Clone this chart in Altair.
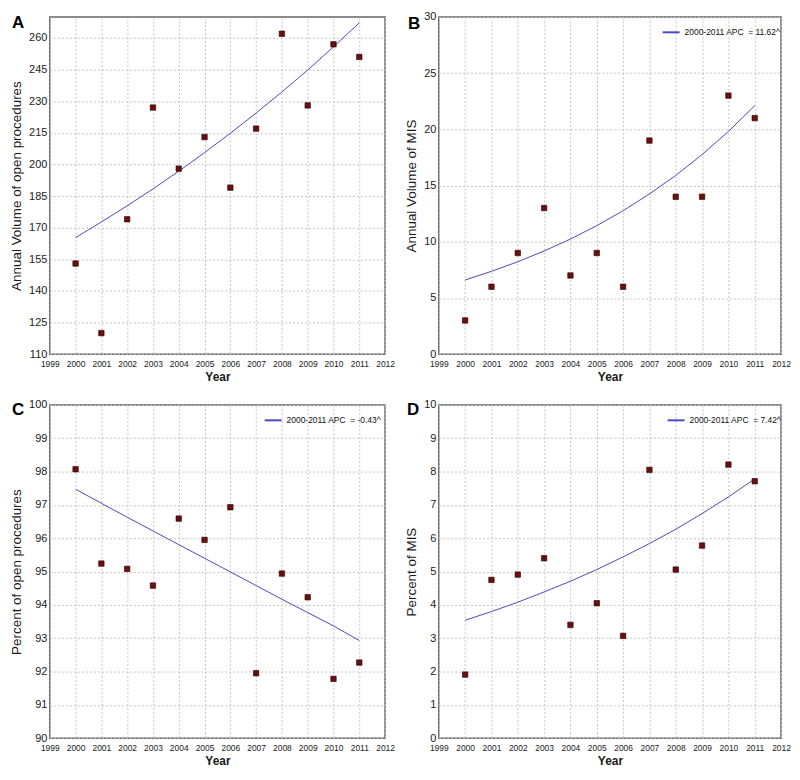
import altair as alt
import pandas as pd

years = list(range(2000, 2012))

# Panel A: annual volume of open procedures
open_vol = [153, 120, 174, 227, 198, 213, 189, 217, 262, 228, 257, 251]
open_vol_fit = [165.3, 172.7, 180.4, 188.4, 196.8, 205.6, 214.8, 224.4, 234.4, 244.8, 255.8, 267.2]

# Panel B: annual volume of MIS
mis_vol = [3, 6, 9, 13, 7, 9, 6, 19, 14, 14, 23, 21]
mis_vol_fit = [6.6, 7.37, 8.22, 9.18, 10.24, 11.43, 12.76, 14.25, 15.9, 17.75, 19.81, 22.1]

# Panel C: percent of open procedures
open_pct = [98.07, 95.24, 95.08, 94.58, 96.59, 95.95, 96.93, 91.95, 94.94, 94.23, 91.78, 92.27]
open_pct_fit = [97.47, 97.05, 96.63, 96.22, 95.81, 95.40, 94.99, 94.58, 94.17, 93.77, 93.37, 92.93]

# Panel D: percent of MIS
mis_pct = [1.91, 4.75, 4.91, 5.40, 3.40, 4.05, 3.07, 8.05, 5.06, 5.78, 8.21, 7.71]
mis_pct_fit = [3.54, 3.80, 4.08, 4.39, 4.71, 5.06, 5.44, 5.84, 6.27, 6.74, 7.24, 7.78]

x_ticks = list(range(1999, 2013))

NB = "\u00a0"
FONT = "Liberation Sans"
LINE_COLOR = "#4a4ac4"
PT_FILL = "#6a0e0e"


def panel(letter, obs, fit, ytitle, ydomain, ystep, legend_label, width, height,
          letter_xy, legend_xy):
    df = pd.DataFrame({"Year": years, "obs": obs, "fit": fit,
                       "series": [legend_label or "fit"] * len(years)})
    yticks = []
    v = ydomain[0]
    while v <= ydomain[1] + 1e-9:
        yticks.append(round(v, 6))
        v += ystep
    xs = alt.X("Year:Q", scale=alt.Scale(domain=[1999, 2012], nice=False, zero=False),
               axis=alt.Axis(values=x_ticks, format="d", title="Year"))
    ys_common = dict(scale=alt.Scale(domain=ydomain, nice=False, zero=False))
    base = alt.Chart(df)
    yax = alt.Axis(values=yticks, title=ytitle)
    if legend_label:
        color = alt.Color("series:N",
                          scale=alt.Scale(domain=[legend_label], range=[LINE_COLOR]),
                          legend=alt.Legend(title=None, orient="none",
                                            legendX=legend_xy[0], legendY=legend_xy[1],
                                            symbolType="stroke", symbolSize=289,
                                            symbolStrokeWidth=2, labelFontSize=8.5,
                                            labelFont=FONT, labelColor="#111",
                                            labelOffset=4, padding=0))
        line = base.mark_line(strokeWidth=1).encode(
            x=xs, y=alt.Y("fit:Q", **ys_common, axis=yax), color=color)
    else:
        line = base.mark_line(strokeWidth=1, color=LINE_COLOR).encode(
            x=xs, y=alt.Y("fit:Q", **ys_common, axis=yax))
    pts = base.mark_square(size=30, fill=PT_FILL, stroke="#2a0000",
                           strokeWidth=0.6, opacity=1).encode(
        x=xs, y=alt.Y("obs:Q", **ys_common, axis=yax))
    lab = alt.Chart(pd.DataFrame({"t": [letter]})).mark_text(
        font=FONT, fontSize=17, fontWeight="bold", align="left",
        baseline="top", color="#000").encode(
        text="t:N", x=alt.value(letter_xy[0]), y=alt.value(letter_xy[1]))
    return alt.layer(line, pts, lab).properties(width=width, height=height)


A = panel("A", open_vol, open_vol_fit, "Annual Volume of open procedures",
          [110, 270], 15, None, 337, 339, (-38, -2), (0, 0))
B = panel("B", mis_vol, mis_vol_fit, "Annual Volume of MIS",
          [0, 30], 5, f"2000-2011 APC {NB}= 11.62^", 344, 339, (-31, -1), (224, 6))
C = panel("C", open_pct, open_pct_fit, "Percent of open procedures",
          [90, 100], 1, f"2000-2011 APC {NB}= -0.43^", 337, 335, (-38, -3), (215, 6))
D = panel("D", mis_pct, mis_pct_fit, "Percent of MIS",
          [0, 10], 1, f"2000-2011 APC {NB}= 7.42^", 344, 335, (-32, -3), (229, 6))

chart = alt.concat(A, B, C, D, columns=2,
                   spacing=alt.RowColnumber(row=51, column=54),
                   bounds="flush", align="each").resolve_scale(
    color="independent").resolve_legend(color="independent").properties(
    padding={"left": 0, "top": 0, "right": 0, "bottom": 0}
).configure_view(
    stroke="#666666", strokeWidth=1.5
).configure_axis(
    grid=True, gridColor="#c4c4c4", gridDash=[2, 2], gridWidth=1,
    domain=False, ticks=False, labelFont=FONT, titleFont=FONT,
    labelColor="#1a1a1a", titleColor="#1a1a1a", labelOverlap=False
).configure_axisY(
    labelFontSize=11, labelPadding=3, titleFontSize=13.5, titleFontWeight="normal",
    titlePadding=5
).configure_axisX(
    labelFontSize=8.5, labelPadding=5, titleFontSize=12, titleFontWeight="bold",
    titlePadding=4, labelFlush=False
)

chart.save("out.html", embed_options={"renderer": "svg", "actions": False})
